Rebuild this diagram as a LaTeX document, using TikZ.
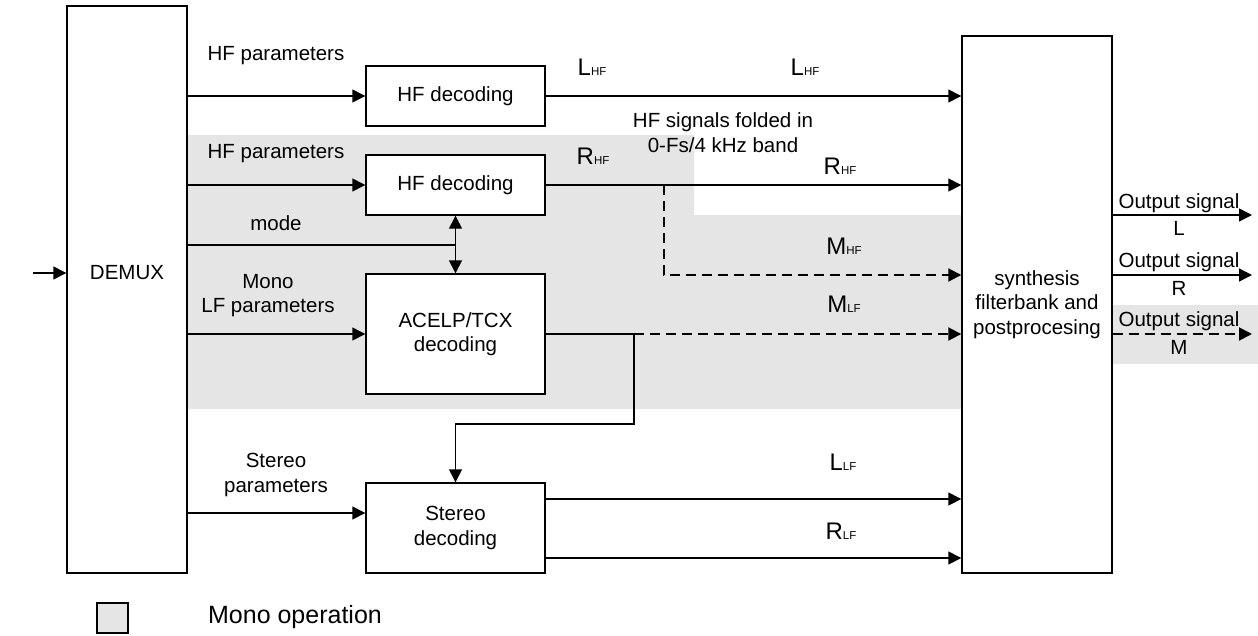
\documentclass[tikz,border=0pt]{standalone}
\usepackage{fontspec}
\setmainfont{Liberation Sans}
\usetikzlibrary{arrows.meta}
\definecolor{monogray}{RGB}{229,229,229}
% signal name with a small suffix on the same baseline
\newcommand\signame[2]{{\fontsize{24}{24}\selectfont #1}{\fontsize{11.5}{12}\selectfont #2}}
\begin{document}
\begin{tikzpicture}[x=1pt,y=-1pt,
  font=\fontsize{20.5}{24.5}\selectfont,
  line width=1.4pt,
  >={Triangle[length=13pt 0 0,width=13pt 0 0]},
  block/.style={draw,fill=white,minimum width=179pt,align=center,inner sep=0pt},
  lbl/.style={align=center,inner sep=0pt},
  monoflow/.style={->,line width=1.9pt,dash pattern=on 10pt off 6pt}]
\useasboundingbox (0,0) rectangle (1258,635);

% mono-operation areas
\fill[monogray] (187,135) -- (694,135) -- (694,215) -- (962,215) -- (962,409) -- (187,409) -- cycle;
\fill[monogray] (1112,305) rectangle (1258,364);

% blocks
\node[block,minimum width=120pt,minimum height=567pt] (demux) at (127,289.5) {};
\node[lbl] (demuxlbl) at (127,273) {DEMUX};
\node[block,minimum height=60pt] (hf1) at (455.5,96) {HF decoding};
\node[block,minimum height=60pt] (hf2) at (455.5,185) {HF decoding};
\node[block,minimum height=120pt] (acelp) at (455.5,334) {ACELP/TCX\\decoding};
\node[block,minimum height=90pt] (stereo) at (455.5,528) {Stereo\\decoding};
\node[block,minimum width=150pt,minimum height=537pt] (synth) at (1037,304.5) {synthesis\\filterbank and\\postprocesing};

% input labels
\node[lbl] (hfp1) at (276,56) {HF parameters};
\node[lbl] (hfp2) at (276,154) {HF parameters};
\node[lbl] (modelbl) at (276,223) {mode};
\node[lbl] (lfp) at (268,295.5) {Mono\\LF parameters};
\node[lbl] (stp) at (276,475) {Stereo\\parameters};

% signal labels
\node[lbl] (lhfa) at (592,67) {\signame{L}{HF}};
\node[lbl] (rhfa) at (593,156) {\signame{R}{HF}};
\node[lbl] (lhfb) at (805,67) {\signame{L}{HF}};
\node[lbl] (rhfb) at (840,166) {\signame{R}{HF}};
\node[lbl] (mhflbl) at (844,246) {\signame{M}{HF}};
\node[lbl] (mlflbl) at (844,304) {\signame{M}{LF}};
\node[lbl] (llflbl) at (843,462) {\signame{L}{LF}};
\node[lbl] (rlflbl) at (841,531) {\signame{R}{LF}};
\node[lbl] (foldlbl) at (723,132.5) {HF signals folded in\\0-Fs/4 kHz band};

% inputs
\coordinate (inpt) at (33,273);
\draw[->] (inpt) -- (inpt -| demux.west);
\draw[->] (hf1.west -| demux.east) -- (hf1.west);
\draw[->] (hf2.west -| demux.east) -- (hf2.west);
\draw[->] (acelp.west -| demux.east) -- (acelp.west);
\coordinate (stin) at ([yshift=15pt]stereo.west);
\draw[->] (stin -| demux.east) -- (stin);

% mode control
\coordinate (modej) at (455.5,245);
\draw (modej -| demux.east) -- (modej);
\draw[<->] (hf2.south) -- (acelp.north);

% HF outputs
\draw[->] (hf1.east) -- (hf1.east -| synth.west);
\draw[->] (hf2.east) -- (hf2.east -| synth.west);
\coordinate (fold) at (664,185);
\coordinate (mhf) at ([yshift=29.5pt]synth.west);
\draw[monoflow] (fold) |- (mhf);

% LF outputs
\coordinate (mlfsplit) at (634,334);
\coordinate (bend) at (634,424);
\draw (acelp.east) -- (mlfsplit);
\draw[monoflow] (mlfsplit) -- (mlfsplit -| synth.west);
\draw[->] (mlfsplit) -- (bend) -| (stereo.north);
\coordinate (llf) at ([yshift=29pt]stereo.east);
\coordinate (rlf) at ([yshift=-30pt]stereo.east);
\draw[->] (llf) -- (llf -| synth.west);
\draw[->] (rlf) -- (rlf -| synth.west);

% output signals
\coordinate (outL) at (1252,215);
\coordinate (outR) at (1252,275);
\coordinate (outM) at (1252,334);
\draw[->] (outL -| synth.east) -- (outL);
\draw[->] (outR -| synth.east) -- (outR);
\draw[monoflow] (outM -| synth.east) -- (outM);
\node[lbl] (olt) at (1179,203) {Output signal};
\node[lbl] (olb) at (1179,228) {L};
\node[lbl] (ort) at (1179,262) {Output signal};
\node[lbl] (orb) at (1179,288) {R};
\node[lbl] (omt) at (1179,321) {Output signal};
\node[lbl] (omb) at (1179,347) {M};

% legend
\node[draw,fill=monogray,minimum width=31pt,minimum height=30pt,inner sep=0pt] (legbox) at (112.5,618) {};
\node[lbl,font=\fontsize{25}{30}\selectfont] (legtext) at (295,617) {Mono operation};
\end{tikzpicture}
\end{document}
